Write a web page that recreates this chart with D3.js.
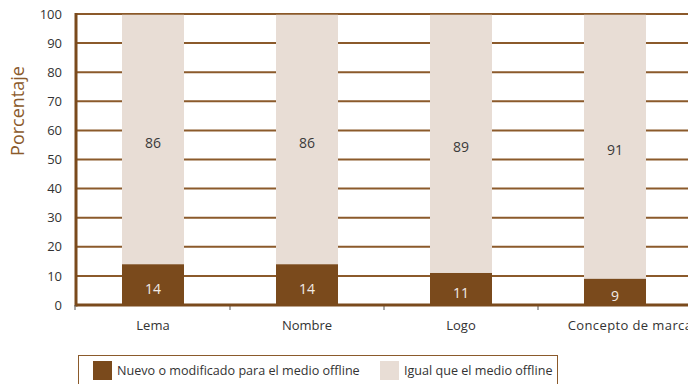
<!DOCTYPE html>
<html>
<head>
<meta charset="utf-8">
<script src="https://cdn.jsdelivr.net/npm/d3@7"></script>
<style>
  html, body { margin: 0; padding: 0; background: #fff; }
  svg { display: block; font-family: "Open Sans", "Noto Sans", sans-serif; }
</style>
</head>
<body>
<svg id="chart" width="688" height="384"></svg>
<script>
// Share of companies by element: new/modified vs. same as offline
const categories = ["Lema", "Nombre", "Logo", "Concepto de marca"];
const nuevoValues = [14, 14, 11, 9];
const igualValues = [86, 86, 89, 91];
const yTicks = [0, 10, 20, 30, 40, 50, 60, 70, 80, 90, 100];
const seriesNames = ["Nuevo o modificado para el medio offline", "Igual que el medio offline"];
const seriesColors = ["#7a4a1c", "#e8ddd5"];

const svg = d3.select("#chart");
const margin = { left: 76, top: 14, bottom: 305 };
const width = 154 * categories.length;

const x = d3.scaleBand().domain(categories).range([margin.left, margin.left + width]).paddingInner(0).paddingOuter(0);
const y = d3.scaleLinear().domain([0, 100]).range([margin.bottom, margin.top]);
const barW = 62;
const grid = "#8b5a2b";

// gridlines
svg.append("g").selectAll("line").data(yTicks.filter(t => t > 0)).join("line")
  .attr("x1", margin.left).attr("x2", 688)
  .attr("y1", d => y(d)).attr("y2", d => y(d))
  .attr("stroke", grid).attr("stroke-width", 2);

const stackData = categories.map((c, i) => ({ cat: c, nuevo: nuevoValues[i], igual: igualValues[i] }));

// bars
const g = svg.append("g");
stackData.forEach(d => {
  const cx = x(d.cat) + x.bandwidth() / 2;
  g.append("rect").attr("x", cx - barW / 2).attr("width", barW)
    .attr("y", y(d.nuevo + d.igual)).attr("height", y(d.nuevo) - y(d.nuevo + d.igual))
    .attr("fill", seriesColors[1]);
  g.append("rect").attr("x", cx - barW / 2).attr("width", barW)
    .attr("y", y(d.nuevo)).attr("height", y(0) - y(d.nuevo))
    .attr("fill", seriesColors[0]);
  g.append("text").attr("x", cx).attr("y", (y(d.nuevo) + y(0)) / 2 + 4).attr("dy", "0.35em")
    .attr("text-anchor", "middle").attr("font-size", 14).attr("fill", "#f2ece6").text(d.nuevo);
  g.append("text").attr("x", cx).attr("y", (y(d.nuevo + d.igual) + y(d.nuevo)) / 2 + 4).attr("dy", "0.35em")
    .attr("text-anchor", "middle").attr("font-size", 14).attr("fill", "#3a3a3a").text(d.igual);
});

// top line over everything
svg.append("line").attr("x1", margin.left).attr("x2", 688)
  .attr("y1", y(100)).attr("y2", y(100)).attr("stroke", grid).attr("stroke-width", 1.5);

// y axis
const yAxis = svg.append("g").attr("transform", `translate(${margin.left},0)`)
  .call(d3.axisLeft(y).tickValues(yTicks).tickSize(0).tickPadding(14));
yAxis.select(".domain").remove();
yAxis.selectAll("text").attr("font-size", 13).attr("fill", "#333")
  .attr("font-family", "'Open Sans', sans-serif");

// x axis
const xAxis = svg.append("g").attr("transform", `translate(0,${margin.bottom})`)
  .call(d3.axisBottom(x).tickSize(0).tickPadding(16));
xAxis.select(".domain").remove();
xAxis.selectAll("text").attr("font-size", 13).attr("fill", "#333")
  .attr("font-family", "'Open Sans', sans-serif");
// the long last label runs off past the right edge
xAxis.selectAll("text").filter(d => d === "Concepto de marca")
  .attr("dx", 15).attr("letter-spacing", 0.4);

// band boundary ticks
svg.append("g").selectAll("line").data(categories.slice(1)).join("line")
  .attr("x1", d => x(d)).attr("x2", d => x(d))
  .attr("y1", margin.bottom).attr("y2", margin.bottom + 5)
  .attr("stroke", "#555").attr("stroke-width", 1);

// thick axis lines
svg.append("line").attr("x1", margin.left).attr("x2", 688)
  .attr("y1", margin.bottom).attr("y2", margin.bottom)
  .attr("stroke", "#7a4a1c").attr("stroke-width", 3);
svg.append("line").attr("x1", margin.left).attr("x2", margin.left)
  .attr("y1", margin.top - 1).attr("y2", margin.bottom + 1.5)
  .attr("stroke", "#7a4a1c").attr("stroke-width", 3);
svg.append("line").attr("x1", margin.left - 1).attr("x2", margin.left - 1)
  .attr("y1", margin.bottom).attr("y2", margin.bottom + 5)
  .attr("stroke", "#555").attr("stroke-width", 1);

// y title
svg.append("text").attr("transform", "translate(24,111) rotate(-90)")
  .attr("text-anchor", "middle").attr("font-size", 18).attr("fill", "#8b5a2b")
  .attr("font-family", "'Open Sans', sans-serif").text("Porcentaje");

// legend
const legend = svg.append("g");
legend.append("rect").attr("x", 78.5).attr("y", 355.5).attr("width", 479).attr("height", 30)
  .attr("fill", "#fff").attr("stroke", "#8b5a2b").attr("stroke-width", 1);
const legX = [93, 380];
seriesNames.forEach((n, i) => {
  legend.append("rect").attr("x", legX[i]).attr("y", 361).attr("width", 19).attr("height", 19)
    .attr("fill", seriesColors[i]);
  legend.append("text").attr("x", legX[i] + 24).attr("y", 371).attr("dy", "0.35em")
    .attr("font-size", 12.6).attr("fill", "#333").text(n);
});
</script>
</body>
</html>
